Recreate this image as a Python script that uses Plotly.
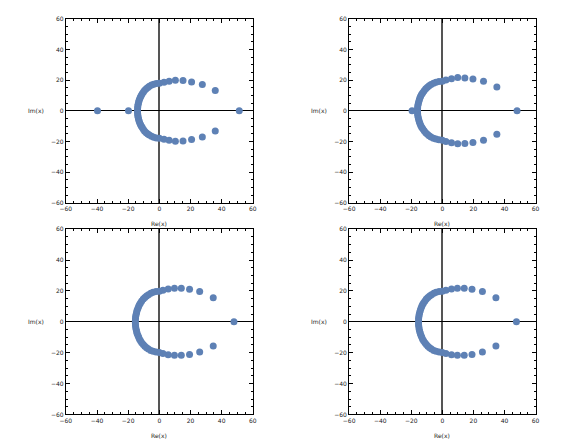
import plotly.graph_objects as go

BLUE = '#5E81B5'

# real eigenvalues per panel
real_1 = [-39.7, -19.8, 51.3]
real_2 = [-19.5, 48.1]
real_3 = [47.9]
real_4 = [47.7]

# complex eigenvalues (upper half-plane), conjugates mirrored below
re_1 = [35.9, 27.6, 20.7, 15.2, 10.3, 6.3, 3.0, 0.0,
        -1.9, -3.6, -5.0, -6.4, -7.4, -8.4, -9.4, -10.2, -11.0,
        -11.6, -12.1, -12.6, -13.0, -13.3, -13.6, -13.8, -13.9, -14.0]
im_1 = [13.2, 17.1, 18.8, 19.7, 19.9, 19.2, 18.6, 17.9,
        17.7, 17.3, 16.7, 15.9, 15.2, 14.3, 13.3, 12.2, 11.0,
        10.0, 9.0, 7.8, 6.7, 5.5, 4.3, 3.1, 1.9, 0.6]

re_2 = [35.1, 26.5, 19.7, 14.5, 9.9, 5.9, 2.3, 0.0,
        -2.2, -4.1, -5.7, -7.3, -8.5, -9.6, -10.7, -11.7, -12.6,
        -13.3, -13.9, -14.4, -14.8, -15.2, -15.5, -15.8, -15.9, -16.0]
im_2 = [15.4, 19.2, 20.7, 21.4, 21.6, 20.9, 20.1, 19.2,
        19.0, 18.5, 17.9, 17.1, 16.3, 15.3, 14.3, 13.1, 11.8,
        10.7, 9.6, 8.4, 7.2, 5.9, 4.6, 3.3, 2.0, 0.7]

re_3 = [34.6, 25.9, 19.4, 14.1, 9.7, 5.7, 2.3, 0.0,
        -2.1, -4.0, -5.5, -7.0, -8.2, -9.3, -10.3, -11.3, -12.1,
        -12.8, -13.3, -13.8, -14.3, -14.6, -14.9, -15.2, -15.3, -15.4]
im_3 = [15.6, 19.6, 21.1, 21.7, 21.7, 21.3, 20.5, 19.8,
        19.6, 19.1, 18.5, 17.6, 16.8, 15.8, 14.7, 13.5, 12.2,
        11.1, 9.9, 8.7, 7.4, 6.1, 4.8, 3.4, 2.1, 0.7]

re_4 = [34.5, 25.8, 19.1, 14.1, 9.7, 5.9, 2.3, 0.0,
        -2.1, -4.0, -5.5, -7.0, -8.2, -9.3, -10.3, -11.2, -12.1,
        -12.8, -13.3, -13.8, -14.2, -14.6, -14.9, -15.1, -15.3, -15.3]
im_4 = [15.6, 19.6, 21.1, 21.7, 21.7, 21.3, 20.5, 19.8,
        19.6, 19.1, 18.5, 17.6, 16.8, 15.8, 14.7, 13.5, 12.2,
        11.1, 9.9, 8.7, 7.4, 6.1, 4.8, 3.4, 2.1, 0.7]

tick_vals = [-60, -40, -20, 0, 20, 40, 60]

panels = [
    (real_1, re_1, im_1),
    (real_2, re_2, im_2),
    (real_3, re_3, im_3),
    (real_4, re_4, im_4),
]

# plot-area domains in paper coords (580x440 canvas)
x_doms = [[0.105, 0.433], [0.602, 0.929], [0.105, 0.433], [0.602, 0.929]]
y_doms = [[0.541, 0.966], [0.541, 0.966], [0.052, 0.480], [0.052, 0.480]]

TXT = '#222222'

fig = go.Figure()
layout = dict(
    width=580, height=440,
    margin=dict(l=0, r=0, t=0, b=0),
    paper_bgcolor='white', plot_bgcolor='white',
    showlegend=False,
    font=dict(family='DejaVu Sans', size=6, color=TXT),
    annotations=[],
)

for i, (reals, re, im) in enumerate(panels):
    n = '' if i == 0 else str(i + 1)
    xs = reals + re + re
    ys = [0] * len(reals) + im + [-v for v in im]
    fig.add_trace(go.Scatter(
        x=xs, y=ys, mode='markers',
        marker=dict(color=BLUE, size=7, line=dict(width=0)),
        xaxis='x' + n, yaxis='y' + n,
    ))
    common = dict(
        range=[-60, 60], tickvals=tick_vals,
        showgrid=False, showline=True, linecolor='black', linewidth=1,
        mirror='allticks', ticks='inside', ticklen=4, tickcolor='black',
        minor=dict(ticks='inside', ticklen=2, dtick=5, tickcolor='black', showgrid=False),
        tickfont=dict(size=6, color=TXT),
        zeroline=True,
    )
    layout['xaxis' + n] = dict(common, domain=x_doms[i], anchor='y' + n,
                               zerolinecolor='#555', zerolinewidth=1.5)
    layout['yaxis' + n] = dict(common, domain=y_doms[i], anchor='x' + n,
                               zerolinecolor='black', zerolinewidth=1)
    xm = (x_doms[i][0] + x_doms[i][1]) / 2
    ym = (y_doms[i][0] + y_doms[i][1]) / 2
    layout['annotations'].append(dict(
        text='Re(x)', xref='paper', yref='paper', x=xm, y=y_doms[i][0] - 0.035,
        showarrow=False, xanchor='center', yanchor='top',
        font=dict(size=6, color=TXT)))
    layout['annotations'].append(dict(
        text='Im(x)', xref='paper', yref='paper', x=x_doms[i][0] - 0.035, y=ym,
        showarrow=False, xanchor='right', yanchor='middle',
        font=dict(size=6, color=TXT)))

fig.update_layout(**layout)
fig.write_html('out.html', config={'displayModeBar': False},
               post_script="document.body.style.margin='0';")
